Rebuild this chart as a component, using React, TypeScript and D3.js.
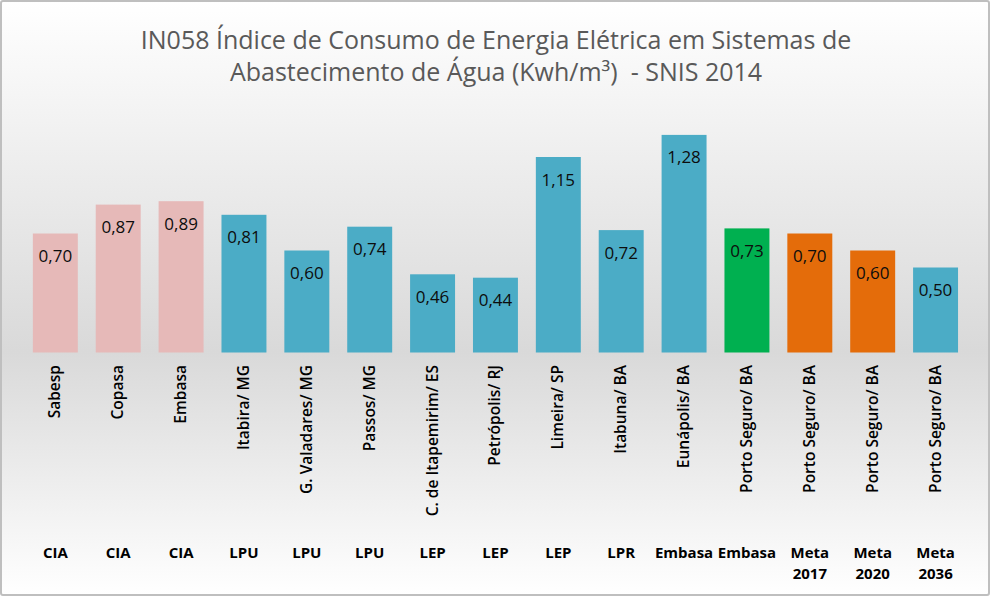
import React, { useEffect } from "react";
import * as d3 from "d3";

const categories = [
  "Sabesp", "Copasa", "Embasa", "Itabira/ MG", "G. Valadares/ MG", "Passos/ MG",
  "C. de Itapemirim/ ES", "Petrópolis/ RJ", "Limeira/ SP", "Itabuna/ BA", "Eunápolis/ BA",
  "Porto Seguro/ BA", "Porto Seguro/ BA", "Porto Seguro/ BA", "Porto Seguro/ BA",
];
const values = [0.70, 0.87, 0.89, 0.81, 0.60, 0.74, 0.46, 0.44, 1.15, 0.72, 1.28, 0.73, 0.70, 0.60, 0.50];
const groups = [
  ["CIA"], ["CIA"], ["CIA"], ["LPU"], ["LPU"], ["LPU"], ["LEP"], ["LEP"], ["LEP"], ["LPR"],
  ["Embasa"], ["Embasa"], ["Meta", "2017"], ["Meta", "2020"], ["Meta", "2036"],
];
const barColors = [
  "#E6B9B8", "#E6B9B8", "#E6B9B8", "#4BACC6", "#4BACC6", "#4BACC6", "#4BACC6", "#4BACC6",
  "#4BACC6", "#4BACC6", "#4BACC6", "#00B050", "#E46C0A", "#E46C0A", "#4BACC6",
];
const titleLines = [
  "IN058 Índice de Consumo de Energia Elétrica em Sistemas de",
  "Abastecimento de Água (Kwh/m³)  - SNIS 2014",
];

const W = 991;
const H = 597;
const FONT = "'Open Sans', 'Noto Sans', sans-serif";

export default function App() {
  useEffect(() => {
    document.body.style.margin = "0";
  }, []);

  const x = d3
    .scaleBand<number>()
    .domain(d3.range(values.length))
    .range([23.9, 967])
    .paddingInner(0.285)
    .paddingOuter(0.1425);
  const y = d3.scaleLinear().domain([0, 1.4]).range([352.5, 114.5]);
  const fmt = (v: number) => d3.format(".2f")(v).replace(".", ",");

  return (
    <svg width={W} height={H} style={{ position: "absolute", left: 0, top: 0, display: "block" }}>
      <defs>
        <linearGradient id="bg" x1="0" y1="0" x2="0" y2="1">
          <stop offset="0%" stopColor="#ffffff" />
          <stop offset="59%" stopColor="#d9d9d9" />
          <stop offset="100%" stopColor="#ffffff" />
        </linearGradient>
      </defs>
      <rect x={1} y={1} width={W - 3} height={H - 3} fill="url(#bg)" stroke="#bfbfbf" strokeWidth={2} rx={2} />
      <g fontFamily={FONT} fill="#595959" fontSize={25} textAnchor="middle">
        {titleLines.map((t, i) => (
          <text key={i} x={496} y={49 + i * 32} xmlSpace="preserve" style={{ whiteSpace: "pre" }}>{t}</text>
        ))}
      </g>
      <g>
        {values.map((v, i) => (
          <rect key={i} x={x(i)} y={y(v)} width={x.bandwidth()} height={y(0) - y(v)} fill={barColors[i]} />
        ))}
      </g>
      <g fontFamily={FONT} fontSize={17} fill="#0d0d0d" textAnchor="middle">
        {values.map((v, i) => (
          <text key={i} x={x(i)! + x.bandwidth() / 2} y={y(v) + 28.5}>{fmt(v)}</text>
        ))}
      </g>
      <g fontFamily={FONT} fontSize={15.5} fontWeight={600} fill="#000" textAnchor="end">
        {categories.map((c, i) => {
          const cx = x(i)! + x.bandwidth() / 2 + 5;
          return (
            <text key={i} transform={`translate(${cx},365) rotate(-90)`}>{c}</text>
          );
        })}
      </g>
      <g fontFamily={FONT} fontSize={15} fontWeight={700} fill="#000" textAnchor="middle">
        {groups.map((g, i) => (
          <text key={i} x={x(i)! + x.bandwidth() / 2} y={558}>
            {g.map((line, j) => (
              <tspan key={j} x={x(i)! + x.bandwidth() / 2} dy={j === 0 ? 0 : 21}>{line}</tspan>
            ))}
          </text>
        ))}
      </g>
    </svg>
  );
}
